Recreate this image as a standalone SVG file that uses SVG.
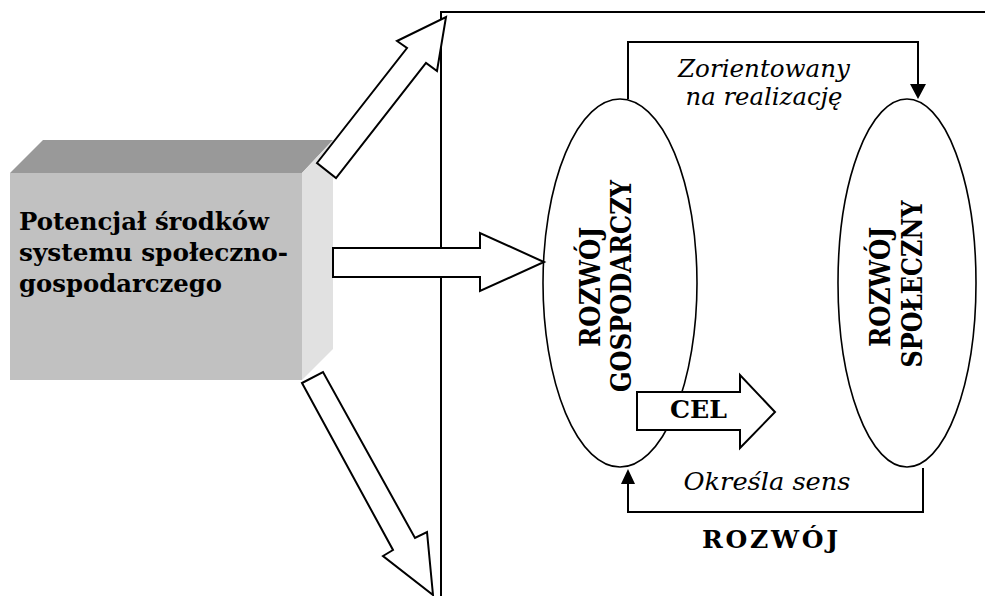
<svg xmlns="http://www.w3.org/2000/svg" width="985" height="596" viewBox="0 0 985 596">
  <style>
    .ln { fill: none; stroke: #000; stroke-width: 2; }
    .blk { fill: #fff; stroke: #000; stroke-width: 2; stroke-linejoin: miter; }
    .ell { fill: #fff; stroke: #000; stroke-width: 1.6; }
    .head { fill: #000; stroke: none; }
    .bold { font-family: "DejaVu Serif", "Liberation Serif", serif; font-weight: bold; fill: #000; }
    .ital { font-family: "DejaVu Serif", "Liberation Serif", serif; font-style: italic; fill: #000; font-size: 25px; }
  </style>

  <!-- frame: vertical divider and top rule -->
  <g id="frame">
    <polyline class="ln" points="441,596 441,12 985,12"/>
  </g>

  <!-- source block (3D box) -->
  <g id="potencjal">
    <polygon points="10,173 43,140 333,140 302,173" fill="#999999"/>
    <polygon points="302,173 333,140 333,349 302,380" fill="#e1e1e1"/>
    <rect x="10" y="173" width="292" height="207" fill="#c1c1c1"/>
    <text class="bold" font-size="24" x="19" y="230" textLength="250" lengthAdjust="spacingAndGlyphs">Potencjał środków</text>
    <text class="bold" font-size="24" x="19" y="261" textLength="269" lengthAdjust="spacingAndGlyphs">systemu społeczno-</text>
    <text class="bold" font-size="24" x="19" y="292" textLength="203" lengthAdjust="spacingAndGlyphs">gospodarczego</text>
  </g>

  <!-- economic development -->
  <g id="rozwoj-gospodarczy">
    <ellipse class="ell" cx="620" cy="283" rx="77" ry="184"/>
    <text class="bold" font-size="28" text-anchor="middle" transform="translate(600,287) rotate(-90)" textLength="120" lengthAdjust="spacingAndGlyphs">ROZWÓJ</text>
    <text class="bold" font-size="28" text-anchor="middle" transform="translate(631,286) rotate(-90)" textLength="212" lengthAdjust="spacingAndGlyphs">GOSPODARCZY</text>
  </g>

  <!-- social development -->
  <g id="rozwoj-spoleczny">
    <ellipse class="ell" cx="907" cy="283" rx="69" ry="184"/>
    <text class="bold" font-size="28" text-anchor="middle" transform="translate(890,287) rotate(-90)" textLength="120" lengthAdjust="spacingAndGlyphs">ROZWÓJ</text>
    <text class="bold" font-size="28" text-anchor="middle" transform="translate(922,284) rotate(-90)" textLength="167" lengthAdjust="spacingAndGlyphs">SPOŁECZNY</text>
  </g>

  <!-- connectors -->
  <g id="connectors">
    <!-- block arrows from the resource block -->
    <polygon class="blk" points="317,163 407,48 397,41 446,17 437,71 426,63 336,178"/>
    <polygon class="blk" points="333,248 480,248 480,233 544,262 480,291 480,277 333,277"/>
    <polygon class="blk" points="302,383 393,550 383,556 433,595 427,532 415,538 323,372"/>

    <!-- goal arrow -->
    <polygon class="blk" points="637,392 740,392 740,375 775,412 740,448 740,430 637,430"/>
    <text class="bold" font-size="25" x="670" y="418" textLength="57" lengthAdjust="spacingAndGlyphs">CEL</text>

    <!-- feedback loop: top -->
    <polyline class="ln" points="628,99 628,42 918,42 918,86"/>
    <polygon class="head" points="910,84 926,84 918,99"/>
    <text class="ital" x="764" y="77" text-anchor="middle" textLength="172" lengthAdjust="spacingAndGlyphs">Zorientowany</text>
    <text class="ital" x="764" y="105" text-anchor="middle" textLength="157" lengthAdjust="spacingAndGlyphs">na realizację</text>

    <!-- feedback loop: bottom -->
    <polyline class="ln" points="923,468 923,512 628,512 628,482"/>
    <polygon class="head" points="621,484 635,484 628,469"/>
    <text class="ital" x="767" y="490" text-anchor="middle" textLength="167" lengthAdjust="spacingAndGlyphs">Określa sens</text>
  </g>

  <!-- overall caption -->
  <g id="rozwoj">
    <text class="bold" font-size="25" x="770" y="548" text-anchor="middle" textLength="136" lengthAdjust="spacing">ROZWÓJ</text>
  </g>
</svg>
